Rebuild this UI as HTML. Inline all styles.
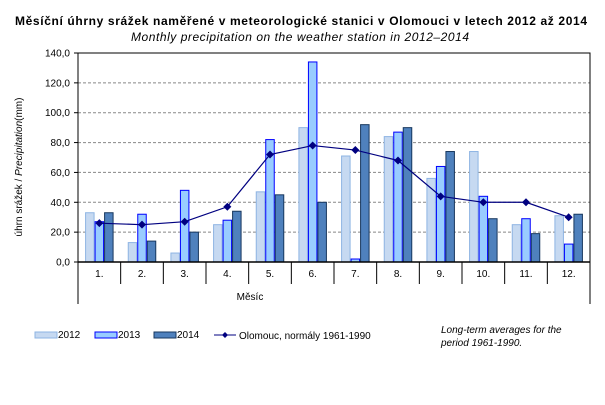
<!DOCTYPE html><html><head><meta charset="utf-8"><style>body{margin:0;background:#fff}svg{display:block;font-family:"Liberation Sans",sans-serif}</style></head><body>
<svg id="s" width="605" height="405" xmlns="http://www.w3.org/2000/svg">
<text x="15" y="25" font-size="12" font-weight="bold" textLength="572" lengthAdjust="spacing">Měsíční úhrny srážek  naměřené  v meteorologické  stanici v Olomouci v letech 2012 až 2014</text>
<text x="131" y="41" font-size="12" font-style="italic" textLength="338" lengthAdjust="spacing">Monthly precipitation  on the weather station in 2012–2014</text>
<text transform="translate(22,167) rotate(-90)" text-anchor="middle" font-size="10">úhrn srážek / <tspan font-style="italic">Precipitation</tspan>(mm)</text>
<text x="250" y="300" text-anchor="middle" font-size="10">Měsíc</text>
<rect x="35" y="332" width="22" height="6" fill="#c6d9f1" stroke="#8eb4e3"/>
<text x="58" y="338" font-size="10">2012</text>
<rect x="95" y="332" width="22" height="6" fill="#99ccff" stroke="#0000ff"/>
<text x="118" y="338" font-size="10">2013</text>
<rect x="154" y="332" width="22" height="6" fill="#4f81bd" stroke="#17375e"/>
<text x="177" y="338" font-size="10">2014</text>
<line x1="214" y1="335" x2="236" y2="335" stroke="#000080"/>
<path d="M225 332 L228 335 L225 338 L222 335Z" fill="#000080"/>
<text x="239" y="339" font-size="10">Olomouc, normály 1961-1990</text>
<text x="441" y="333" font-size="10" font-style="italic">Long-term averages for the</text>
<text x="441" y="346" font-size="10" font-style="italic">period 1961-1990.</text>
</svg>
<script>
var s=document.getElementById('s'),NS='http://www.w3.org/2000/svg';
function el(t,a,txt){var e=document.createElementNS(NS,t);for(var k in a)e.setAttribute(k,a[k]);if(txt!=null)e.textContent=txt;s.appendChild(e);return e;}
var X0=78,X1=590,Y0=262,YT=53,cw=(X1-X0)/12;
function Y(v){return Y0-(Y0-YT)*v/140;}
for(var i=1;i<=7;i++){var y=Y(i*20);if(i<7)el('line',{x1:X0,x2:X1,y1:y,y2:y,stroke:'#888','stroke-dasharray':'3,2'});}
for(var i=0;i<=7;i++){var y=Y(i*20);el('line',{x1:X0-4,x2:X0,y1:y,y2:y,stroke:'#000'});el('text',{x:X0-8,y:y+3.5,'text-anchor':'end','font-size':10},(i*20).toFixed(1).replace('.',','));}
var d=[[33,13,6,25,47,90,71,84,56,74,25,31],[27,32,48,28,82,134,2,87,64,44,29,12],[33,14,20,34,45,40,92,90,74,29,19,32]];
var st=[['#c6d9f1','#8eb4e3'],['#99ccff','#0000ff'],['#4f81bd','#17375e']];
var n=[26,25,27,37,72,78,75,68,44,40,40,30],bw=9.5;
for(var m=0;m<12;m++){var c=X0+cw*(m+0.5);for(var j=0;j<3;j++){var x=c-1.5*bw+j*bw,y=Y(d[j][m]);el('rect',{x:x+0.5,y:y,width:bw-1,height:Y0-y,fill:st[j][0],stroke:st[j][1]});}
el('text',{x:c,y:277,'text-anchor':'middle','font-size':10},(m+1)+'.');
if(m>0)el('line',{x1:X0+cw*m,x2:X0+cw*m,y1:Y0,y2:Y0+22,stroke:'#000'});}
var p='';for(var m=0;m<12;m++)p+=(m?'L':'M')+(X0+cw*(m+0.5))+' '+Y(n[m]);
el('path',{d:p,fill:'none',stroke:'#000080','stroke-width':1.2});
for(var m=0;m<12;m++){var x=X0+cw*(m+0.5),y=Y(n[m]);el('path',{d:'M'+x+' '+(y-4)+'L'+(x+4)+' '+y+'L'+x+' '+(y+4)+'L'+(x-4)+' '+y+'Z',fill:'#000080'});}
el('rect',{x:X0,y:YT,width:X1-X0,height:Y0-YT,fill:'none',stroke:'#000'});
el('line',{x1:X0,x2:X0,y1:Y0,y2:Y0+42,stroke:'#000'});el('line',{x1:X1,x2:X1,y1:Y0,y2:Y0+42,stroke:'#000'});
el('line',{x1:X0,x2:X1,y1:Y0,y2:Y0,stroke:'#000','stroke-width':1.5});
</script></body></html>
